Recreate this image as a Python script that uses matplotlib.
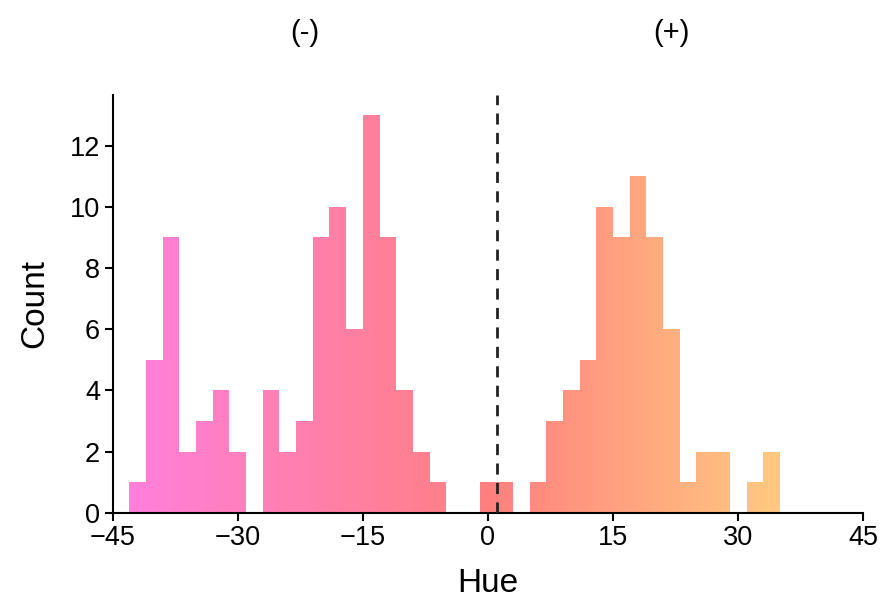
import colorsys
import numpy as np
import matplotlib
matplotlib.use("Agg")
import matplotlib.pyplot as plt
from matplotlib.path import Path
from matplotlib.patches import PathPatch

plt.rcParams['font.family'] = ['Liberation Sans', 'DejaVu Sans']

# histogram data: bin edges of width 2 from -43 to 35
bin_edges = np.arange(-43, 36, 2)
counts = [1, 5, 9, 2, 3, 4, 2, 0, 4, 2, 3, 9, 10, 6, 13, 9, 4, 2, 1,
          0, 0, 1, 1, 0, 1, 3, 4, 5, 10, 9, 11, 9, 6, 1, 2, 2, 0, 1, 2]
threshold = 1.1
x_ticks = [-45, -30, -15, 0, 15, 30, 45]
y_ticks = [0, 2, 4, 6, 8, 10, 12]
side_labels = ["(-)", "(+)"]
side_pos = [-22, 22]


def hue_color(h):
    return colorsys.hls_to_rgb((h % 360) / 360.0, 0.75, 1.0)


fig = plt.figure(figsize=(8.8, 5.99), dpi=100)
ax = fig.add_axes([0.128, 0.144, 0.853, 0.697])

lefts = bin_edges[:-1]
widths = np.diff(bin_edges)
bars = ax.bar(lefts, counts, width=widths, align='edge', facecolor='none',
              edgecolor='none', linewidth=0)

# gradient fill clipped to the bars
xs = np.linspace(-45, 45, 900)
grad = np.array([hue_color(h) for h in xs])[np.newaxis, :, :]
img = ax.imshow(grad, extent=[-45, 45, 0, 14], aspect='auto', origin='lower',
                interpolation='bilinear', zorder=1)
verts, codes = [], []
for b in bars:
    if b.get_height() <= 0:
        continue
    x0, y0 = b.get_x(), b.get_y()
    w, h = b.get_width(), b.get_height()
    verts += [(x0, y0), (x0 + w, y0), (x0 + w, y0 + h), (x0, y0 + h), (x0, y0)]
    codes += [Path.MOVETO, Path.LINETO, Path.LINETO, Path.LINETO, Path.CLOSEPOLY]
clip = PathPatch(Path(verts, codes), transform=ax.transData, facecolor='none',
                 edgecolor='none')
ax.add_patch(clip)
img.set_clip_path(clip)

ax.axvline(threshold, color='#222222', linestyle=(0, (4, 3)), linewidth=2, zorder=3)

ax.set_xlim(-45, 45)
ax.set_ylim(0, 13.65)
ax.set_xticks(x_ticks)
ax.set_xticklabels([str(t).replace('-', '\u2212') for t in x_ticks])
ax.set_yticks(y_ticks)
ax.tick_params(labelsize=19.5, width=1.5, length=6, direction='out', pad=3)
for s in ['top', 'right']:
    ax.spines[s].set_visible(False)
for s in ['left', 'bottom']:
    ax.spines[s].set_linewidth(1.5)

ax.set_xlabel('Hue', fontsize=24, labelpad=12)
ax.set_ylabel('Count', fontsize=24, labelpad=14)

trans = matplotlib.transforms.blended_transform_factory(ax.transData, fig.transFigure)
for lab, xp in zip(side_labels, side_pos):
    ax.text(xp, 0.945, lab, transform=trans, ha='center', va='center', fontsize=21)

fig.savefig('out.png', dpi=100)
